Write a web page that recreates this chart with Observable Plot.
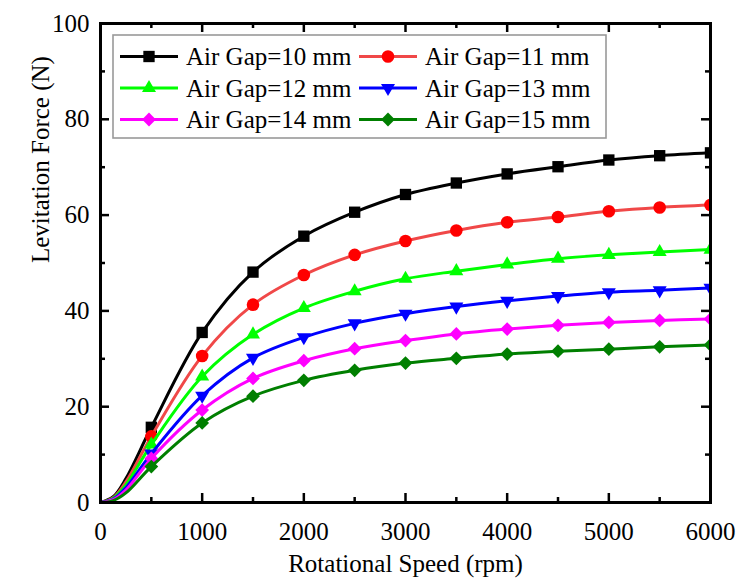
<!DOCTYPE html>
<html><head><meta charset="utf-8">
<script src="https://cdn.jsdelivr.net/npm/d3@7"></script>
<script src="https://cdn.jsdelivr.net/npm/@observablehq/plot@0.6"></script>
<style>
body{margin:0;background:#fff;}
#chart{position:relative;width:737px;height:587px;}
#legend{position:absolute;left:0;top:0;pointer-events:none;}
</style></head><body><div id="chart"></div>
<script>
// ---- data ----
const startSpeeds = [0, 125, 250];           // line-only start of curves (rpm)
const markerSpeeds = [500, 1000, 1500, 2000, 2500, 3000, 3500, 4000, 4500, 5000, 5500, 6000];
const seriesNames = ["Air Gap=10 mm", "Air Gap=11 mm", "Air Gap=12 mm", "Air Gap=13 mm", "Air Gap=14 mm", "Air Gap=15 mm"];
const gap10Start = [0, 1.2, 5.0];
const gap10 = [15.7, 35.5, 48.1, 55.6, 60.6, 64.3, 66.7, 68.6, 70.1, 71.5, 72.4, 73.0];
const gap11Start = [0, 1.0, 4.3];
const gap11 = [13.8, 30.6, 41.3, 47.5, 51.7, 54.6, 56.8, 58.5, 59.6, 60.8, 61.6, 62.1];
const gap12Start = [0, 0.9, 3.7];
const gap12 = [12.1, 26.3, 35.1, 40.6, 44.1, 46.7, 48.3, 49.7, 50.9, 51.7, 52.3, 52.8];
const gap13Start = [0, 0.7, 3.1];
const gap13 = [10.2, 22.3, 30.2, 34.5, 37.4, 39.4, 40.9, 42.1, 43.1, 43.9, 44.3, 44.8];
const gap14Start = [0, 0.6, 2.6];
const gap14 = [9.2, 19.3, 25.9, 29.6, 32.1, 33.8, 35.2, 36.2, 37.0, 37.6, 38.0, 38.3];
const gap15Start = [0, 0.4, 2.0];
const gap15 = [7.5, 16.6, 22.2, 25.5, 27.6, 29.1, 30.1, 31.0, 31.6, 32.0, 32.5, 32.9];
const xTicks = [0, 1000, 2000, 3000, 4000, 5000, 6000];
const xMinor = [500, 1500, 2500, 3500, 4500, 5500];
const yTicks = [0, 20, 40, 60, 80, 100];
const yMinor = [10, 30, 50, 70, 90];
const xLabel = "Rotational Speed (rpm)";
const yLabel = "Levitation Force (N)";

// ---- styles ----
const styles = [
  {line: "#000000", fill: "#000000", symbol: "square", r: 6.4, rotate: 0},
  {line: "#f04848", fill: "#ff0000", symbol: "circle", r: 6.3, rotate: 0},
  {line: "#00ff00", fill: "#00ff00", symbol: "triangle", r: 5.2, rotate: 0},
  {line: "#0000ff", fill: "#0000ff", symbol: "triangle", r: 5.2, rotate: 180},
  {line: "#ff00ff", fill: "#ff00ff", symbol: "diamond2", r: 6.2, rotate: 0},
  {line: "#007f00", fill: "#007f00", symbol: "diamond2", r: 6.2, rotate: 0}
];
const starts = [gap10Start, gap11Start, gap12Start, gap13Start, gap14Start, gap15Start];
const values = [gap10, gap11, gap12, gap13, gap14, gap15];

const W = 737, H = 587, mL = 100, mR = 27, mT = 23, mB = 85;
const innerW = W - mL - mR, innerH = H - mT - mB;
const major = 9, minor = 5;
const font = "'Liberation Serif', 'Times New Roman', serif";

const seriesMarks = values.flatMap((vals, i) => {
  const markers = markerSpeeds.map((s, j) => ({x: s, y: vals[j]}));
  const lineData = startSpeeds.map((s, j) => ({x: s, y: starts[i][j]})).concat(markers);
  const st = styles[i];
  return [
    Plot.line(lineData, {x: "x", y: "y", stroke: st.line, strokeWidth: 3, curve: "catmull-rom", clip: true}),
    Plot.dot(markers, {x: "x", y: "y", symbol: st.symbol, r: st.r, fill: st.fill, stroke: "none", rotate: st.rotate, clip: true})
  ];
});

const chart = Plot.plot({
  width: W, height: H,
  marginLeft: mL, marginRight: mR, marginTop: mT, marginBottom: mB,
  style: {fontFamily: font, fontSize: "25px", color: "#000", background: "#fff"},
  x: {domain: [0, 6000]},
  y: {domain: [0, 100]},
  marks: [
    ...seriesMarks,
    Plot.axisX({ticks: xTicks, tickSize: 0, tickPadding: 20, tickFormat: d => String(d), label: null, fontSize: 25}),
    Plot.axisY({ticks: yTicks, tickSize: 0, tickPadding: 11, tickFormat: d => String(d), label: null, fontSize: 25}),
    Plot.tickX(xTicks, {x: d => d, insetTop: innerH - major, strokeWidth: 2.5}),
    Plot.tickX(xMinor, {x: d => d, insetTop: innerH - minor, strokeWidth: 2.5}),
    Plot.tickX(xTicks, {x: d => d, insetBottom: innerH - major, strokeWidth: 2.5}),
    Plot.tickX(xMinor, {x: d => d, insetBottom: innerH - minor, strokeWidth: 2.5}),
    Plot.tickY(yTicks, {y: d => d, insetRight: innerW - major, strokeWidth: 2.5}),
    Plot.tickY(yMinor, {y: d => d, insetRight: innerW - minor, strokeWidth: 2.5}),
    Plot.tickY(yTicks, {y: d => d, insetLeft: innerW - major, strokeWidth: 2.5}),
    Plot.tickY(yMinor, {y: d => d, insetLeft: innerW - minor, strokeWidth: 2.5}),
    Plot.frame({stroke: "#000", strokeWidth: 3}),
    Plot.text([xLabel], {frameAnchor: "bottom", dy: 69, text: d => d, fontSize: 25}),
    Plot.text([yLabel], {frameAnchor: "left", dx: -60, rotate: -90, text: d => d, fontSize: 25})
  ]
});
const container = document.getElementById("chart");
container.appendChild(chart);

// ---- legend (overlay) ----
const leg = d3.select(container).append("svg").attr("id", "legend")
  .attr("width", W).attr("height", H)
  .style("font-family", font).style("font-size", "25px");
leg.append("rect").attr("x", 113).attr("y", 35).attr("width", 493).attr("height", 103)
  .attr("fill", "#fff").attr("stroke", "#999").attr("stroke-width", 1.6);
const symMap = {square: d3.symbolSquare, circle: d3.symbolCircle, triangle: d3.symbolTriangle, diamond2: d3.symbolDiamond2};
const rowsY = [56.5, 88, 119.5];
const colX = [120, 359];
seriesNames.forEach((name, i) => {
  const st = styles[i];
  const x0 = colX[i % 2], y0 = rowsY[Math.floor(i / 2)];
  const g = leg.append("g");
  g.append("line").attr("x1", x0).attr("x2", x0 + 58).attr("y1", y0).attr("y2", y0)
    .attr("stroke", st.line).attr("stroke-width", 3);
  g.append("path").attr("d", d3.symbol(symMap[st.symbol], Math.PI * st.r * st.r)())
    .attr("transform", `translate(${x0 + 29},${y0}) rotate(${st.rotate})`).attr("fill", st.fill);
  g.append("text").attr("x", x0 + 66).attr("y", y0).attr("dy", "0.35em").attr("fill", "#000").text(name);
});
</script>
</body></html>
